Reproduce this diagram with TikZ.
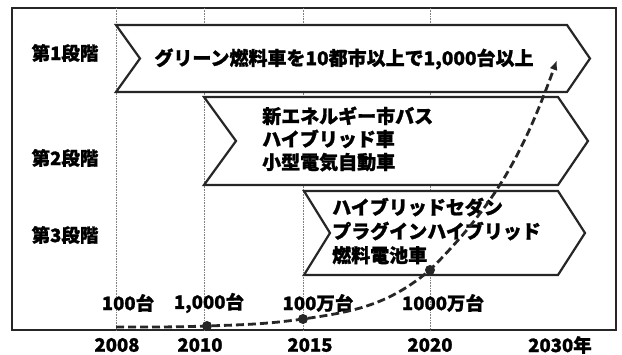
\documentclass[tikz,border=0pt]{standalone}
\usepackage{fontspec}
\setmainfont{Noto Sans CJK JP}[FakeBold=1.2]
\usetikzlibrary{arrows.meta}
\begin{document}
\begin{tikzpicture}[x=1pt,y=1pt,
  lbl/.style={font=\fontsize{18.5}{22}\selectfont\bfseries, inner sep=0pt},
  big/.style={font=\fontsize{19}{23}\selectfont\bfseries, inner sep=0pt},
  chev/.style={draw=black!85, line width=2.2pt, fill=white, line join=miter},
  grid/.style={draw=gray, line width=0.6pt, densely dotted},
  dot/.style={circle, fill=black!85, inner sep=0pt, minimum size=10pt},
  growth/.style={draw=black!85, line width=2.8pt, dash pattern=on 8pt off 4pt, -{Latex[length=10pt,width=8pt]}}]
\useasboundingbox (0,0) rectangle (622,355);
% frame
\draw[line width=2pt, black!85] (12,25) rectangle (616,347);
% grid lines
\foreach \x in {116,204,303,430} \draw[grid] (\x,347) -- (\x,25);
% chevrons
\draw[chev] (116,330) -- (567,330) -- (590,296.5) -- (567,263) -- (116,263) -- (140,296.5) -- cycle;
\draw[chev] (204,258) -- (558,258) -- (588,214) -- (558,170) -- (204,170) -- (236,214) -- cycle;
\draw[chev] (304,164) -- (558,164) -- (585,122) -- (558,80) -- (304,80) -- (330,122) -- cycle;
% stage labels
\node[lbl] (s1) at (65,302) {第1段階};
\node[lbl] (s2) at (65,197) {第2段階};
\node[lbl] (s3) at (65,120) {第3段階};
% chevron texts
\node[big] (t1) at (344,296) {グリーン燃料車を10都市以上で1,000台以上};
\node[big, align=left, anchor=west] (t2) at (262,216) {新エネルギー市バス\\ハイブリッド車\\小型電気自動車};
\node[big, font=\fontsize{19}{24}\selectfont\bfseries, align=left, anchor=west] (t3) at (332,124) {ハイブリッドセダン\\プラグインハイブリッド\\燃料電池車};
% count labels
\node[lbl] (n1) at (128,52) {100台};
\node[lbl] (n2) at (209,52) {1,000台};
\node[lbl] (n3) at (318,52) {100万台};
\node[lbl] (n4) at (443,52) {1000万台};
% year labels
\node[lbl] (y1) at (117,10) {2008};
\node[lbl] (y2) at (200,10) {2010};
\node[lbl] (y3) at (310,10) {2015};
\node[lbl] (y4) at (430,10) {2020};
\node[lbl] (y5) at (560,10) {2030年};
% growth curve
\coordinate (c0) at (116,28);
\coordinate (c4) at (557,295);
\node[dot] (d1) at (207,29) {};
\node[dot] (d2) at (303,36) {};
\node[dot] (d3) at (430,85) {};
\draw[growth] (c0) to[out=0,in=182] (d1.center) to[out=2,in=188] (d2.center)
  to[out=8,in=220] (d3.center) to[out=45,in=-110] (c4);
\end{tikzpicture}
\end{document}
